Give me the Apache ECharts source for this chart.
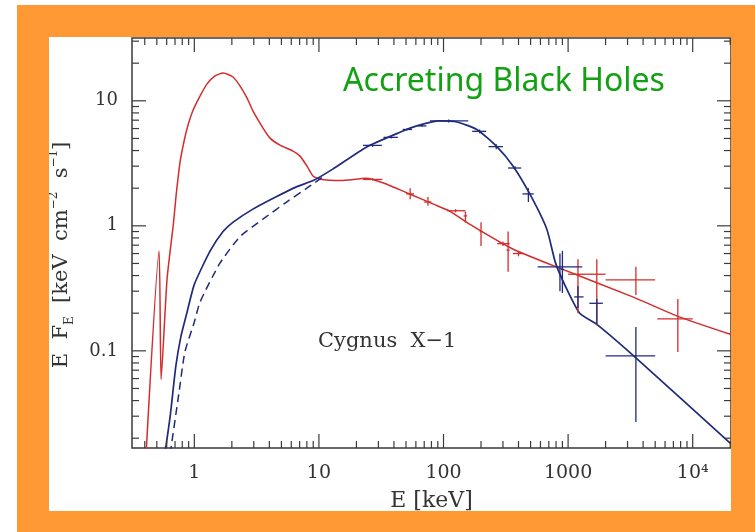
<!DOCTYPE html>
<html>
<head>
<meta charset="utf-8">
<style>
html, body { margin: 0; padding: 0; background: #fff; }
#chart { width: 755px; height: 532px; }
</style>
<script src="https://cdn.jsdelivr.net/npm/echarts@6/dist/echarts.min.js"></script>
</head>
<body>
<div id="chart"></div>
<script>
// axis ranges and ticks
var xMin = 0.316, xMax = 20300;
var yMin = 0.0167, yMax = 31.8;
var xMajor = [1, 10, 100, 1000, 10000];
var xLabels = ['1', '10', '100', '1000', '10⁴'];
var yMajor = [0.1, 1, 10];
var yLabels = ['0.1', '1', '10'];
var minorSteps = [2, 3, 4, 5, 6, 7, 8, 9];
var xDecades = [0.1, 1, 10, 100, 1000, 10000];
var yDecades = [0.01, 0.1, 1, 10];

// soft state (red) model curve
var redE = [0.41, 0.521, 0.541, 0.604, 0.68, 0.713, 0.768, 0.827, 0.89, 0.976,
            1.11, 1.26, 1.466, 1.70, 2.045, 2.33, 2.65, 2.96, 3.56, 4.05,
            4.87, 6.2, 7.05, 8.03, 8.97, 10.2, 15, 24, 33, 54,
            83, 112, 162, 284, 363, 760, 3300, 7900, 20300];
var redF = [0.015, 0.63, 0.059, 0.375, 1.05, 1.73, 3.23, 4.75, 6.4, 8.4,
            10.9, 13.6, 15.8, 16.7, 15.5, 13.1, 10.5, 8.27, 6.05, 5.03,
            4.42, 3.96, 3.61, 3.0, 2.5, 2.36, 2.3, 2.4, 2.2, 1.79,
            1.49, 1.31, 1.03, 0.74, 0.65, 0.48, 0.27, 0.186, 0.135];

// hard state (blue) model curve
var blueE = [0.58, 0.64, 0.71, 0.78, 0.87, 1.0, 1.34, 1.7, 2.05, 2.95,
             4.5, 6.6, 9, 12.9, 24, 44.7, 61, 93, 126, 185,
             268, 362, 494, 675, 790, 950, 1240, 1700, 3500, 20300];
var blueF = [0.015, 0.03, 0.075, 0.13, 0.2, 0.34, 0.63, 0.9, 1.07, 1.36,
             1.7, 2.05, 2.3, 2.84, 4.26, 5.6, 6.3, 6.9, 6.8, 5.9,
             4.3, 3.0, 1.79, 0.94, 0.51, 0.33, 0.2, 0.163, 0.088, 0.018];

// blue dashed (unabsorbed) curve
var dashE = [0.64, 0.75, 0.84, 1.0, 1.11, 1.6, 2.33, 3.55, 5.5, 8, 11];
var dashF = [0.015, 0.045, 0.098, 0.17, 0.245, 0.5, 0.82, 1.13, 1.55, 2.0, 2.5];

// data crosses: [E, F, E low, E high, F low, F high]
var redCross = [
  [27, 2.35, 22.6, 32.3, 2.3, 2.4],
  [54, 1.8, 50, 58, 1.63, 2.0],
  [75, 1.55, 70, 80, 1.45, 1.7],
  [125, 1.32, 107, 150, 1.28, 1.36],
  [150, 1.2, 145, 155, 1.06, 1.3],
  [200, 0.9, 195, 205, 0.69, 1.07],
  [300, 0.72, 270, 340, 0.69, 0.75],
  [330, 0.64, 320, 340, 0.43, 0.9],
  [400, 0.6, 360, 440, 0.57, 0.63],
  [1200, 0.41, 1000, 1400, 0.2, 0.54],
  [1700, 0.41, 1400, 2000, 0.16, 0.54],
  [3500, 0.37, 2000, 5000, 0.28, 0.47],
  [7600, 0.18, 5200, 10000, 0.098, 0.26]
];
var blueCross = [
  [27, 4.4, 22.6, 32, 4.3, 4.5],
  [38, 5.1, 33, 43, 5.0, 5.2],
  [51, 5.9, 47, 56, 5.8, 6.0],
  [67, 6.3, 62, 73, 6.2, 6.4],
  [110, 6.9, 78, 158, 6.7, 7.1],
  [195, 5.7, 170, 220, 5.5, 5.9],
  [265, 4.3, 230, 300, 4.1, 4.5],
  [375, 2.9, 330, 420, 2.8, 3.0],
  [480, 1.8, 430, 530, 1.55, 2.0],
  [860, 0.47, 570, 1300, 0.3, 0.6],
  [900, 0.45, 880, 920, 0.29, 0.63],
  [1200, 0.27, 1120, 1330, 0.22, 0.33],
  [1700, 0.24, 1480, 1900, 0.163, 0.26],
  [3500, 0.091, 2000, 5000, 0.027, 0.155]
];

var RED = '#d42c2c', BLUE = '#1f2a7c', AXIS = '#3a3a3a';
var SERIF = 'DejaVu Serif';

function zip(a, b) {
  var out = [];
  for (var i = 0; i < a.length; i++) out.push([a[i], b[i]]);
  return out;
}

function labelFor(majors, labels) {
  return function (v) {
    for (var i = 0; i < majors.length; i++) {
      if (Math.abs(v / majors[i] - 1) < 1e-6) return labels[i];
    }
    return '';
  };
}

// tick rows: [value, other-axis value, length]
var xTickRows = [], yTickRows = [];
xMajor.forEach(function (v) { xTickRows.push([v, yMin, 14]); });
yMajor.forEach(function (v) { yTickRows.push([xMin, v, 14]); });
xDecades.forEach(function (d) {
  minorSteps.forEach(function (m) {
    var v = m * d;
    if (v > xMin && v < xMax) xTickRows.push([v, yMin, 7]);
  });
});
yDecades.forEach(function (d) {
  minorSteps.forEach(function (m) {
    var v = m * d;
    if (v > yMin && v < yMax) yTickRows.push([xMin, v, 7]);
  });
});

function tickLine(x1, y1, x2, y2) {
  return { type: 'line', shape: { x1: x1, y1: y1, x2: x2, y2: y2 },
           style: { stroke: AXIS, lineWidth: 1.2 } };
}

function crossSeries(rows, color) {
  return {
    type: 'custom', data: rows, z: 4, silent: true,
    renderItem: function (params, api) {
      var c = api.coord([api.value(0), api.value(1)]);
      var l = api.coord([api.value(2), api.value(1)]);
      var r = api.coord([api.value(3), api.value(1)]);
      var lo = api.coord([api.value(0), api.value(4)]);
      var hi = api.coord([api.value(0), api.value(5)]);
      return { type: 'group', children: [
        { type: 'line', shape: { x1: l[0], y1: c[1], x2: r[0], y2: c[1] }, style: { stroke: color, lineWidth: 1.3 } },
        { type: 'line', shape: { x1: c[0], y1: hi[1], x2: c[0], y2: lo[1] }, style: { stroke: color, lineWidth: 1.3 } }
      ] };
    }
  };
}

var myChart = echarts.init(document.getElementById('chart'));
var option = {
  backgroundColor: '#fff',
  animation: false,
  grid: {
    left: 132, top: 38, right: 24, bottom: 84,
    outerBoundsMode: 'none',
    show: true, borderColor: AXIS, borderWidth: 1.5
  },
  xAxis: {
    type: 'log', logBase: 10, min: xMin, max: xMax,
    axisLine: { show: false }, axisTick: { show: false }, splitLine: { show: false },
    axisLabel: { formatter: labelFor(xMajor, xLabels), color: '#333', fontFamily: SERIF, fontSize: 19, margin: 16 },
    name: 'E [keV]', nameLocation: 'middle', nameGap: 42,
    nameTextStyle: { color: '#333', fontFamily: SERIF, fontSize: 22 }
  },
  yAxis: {
    type: 'log', logBase: 10, min: yMin, max: yMax,
    axisLine: { show: false }, axisTick: { show: false }, splitLine: { show: false },
    axisLabel: { formatter: labelFor(yMajor, yLabels), color: '#333', fontFamily: SERIF, fontSize: 18, margin: 14 }
  },
  graphic: [
    { type: 'rect', z: 100, shape: { x: 17, y: 5, width: 738, height: 32 }, style: { fill: '#ff9933' } },
    { type: 'rect', z: 100, shape: { x: 17, y: 511, width: 738, height: 21 }, style: { fill: '#ff9933' } },
    { type: 'rect', z: 100, shape: { x: 17, y: 5, width: 32, height: 527 }, style: { fill: '#ff9933' } },
    { type: 'rect', z: 100, shape: { x: 731, y: 5, width: 24, height: 527 }, style: { fill: '#ff9933' } },
    { type: 'text', z: 50, x: 504, y: 82,
      style: { text: 'Accreting Black Holes', fill: '#14a014', font: '32px "Noto Sans"', align: 'center', verticalAlign: 'middle' } },
    { type: 'text', z: 50, x: 318, y: 342,
      style: { text: 'Cygnus  X\u22121', fill: '#333', font: '21px "DejaVu Serif"', align: 'left', verticalAlign: 'middle' } },
    { type: 'text', z: 50, x: 62, y: 255, rotation: Math.PI / 2,
      style: {
        text: 'E  F{sub|E}  [keV  cm{sup|\u22122}  s{sup|\u22121}]',
        fill: '#333', font: '21px "DejaVu Serif"', align: 'center', verticalAlign: 'middle',
        lineHeight: 28,
        rich: {
          sub: { fontSize: 12, fontFamily: SERIF, verticalAlign: 'bottom', lineHeight: 28, fill: '#333' },
          sup: { fontSize: 12, fontFamily: SERIF, verticalAlign: 'top', lineHeight: 28, fill: '#333' }
        }
      } }
  ],
  series: [
    { type: 'line', data: zip(redE, redF), showSymbol: false, smooth: 0.2, z: 3,
      lineStyle: { color: RED, width: 1.5 } },
    { type: 'line', data: zip(blueE, blueF), showSymbol: false, smooth: 0.2, z: 3,
      lineStyle: { color: BLUE, width: 1.7 } },
    { type: 'line', data: zip(dashE, dashF), showSymbol: false, smooth: 0.2, z: 3,
      lineStyle: { color: BLUE, width: 1.5, type: [8, 5] } },
    crossSeries(redCross, RED),
    crossSeries(blueCross, BLUE),
    {
      type: 'custom', data: xTickRows, z: 5, silent: true, clip: false,
      renderItem: function (params, api) {
        var p = api.coord([api.value(0), api.value(1)]);
        var cs = params.coordSys, len = api.value(2);
        var b = cs.y + cs.height;
        return { type: 'group', children: [
          tickLine(p[0], b, p[0], b - len),
          tickLine(p[0], cs.y, p[0], cs.y + len)
        ] };
      }
    },
    {
      type: 'custom', data: yTickRows, z: 5, silent: true, clip: false,
      renderItem: function (params, api) {
        var p = api.coord([api.value(0), api.value(1)]);
        var cs = params.coordSys, len = api.value(2);
        var r = cs.x + cs.width;
        return { type: 'group', children: [
          tickLine(cs.x, p[1], cs.x + len, p[1]),
          tickLine(r, p[1], r - len, p[1])
        ] };
      }
    }
  ]
};
myChart.setOption(option);
window.addEventListener('resize', function () {
  myChart.resize();
});
</script>
</body>
</html>
